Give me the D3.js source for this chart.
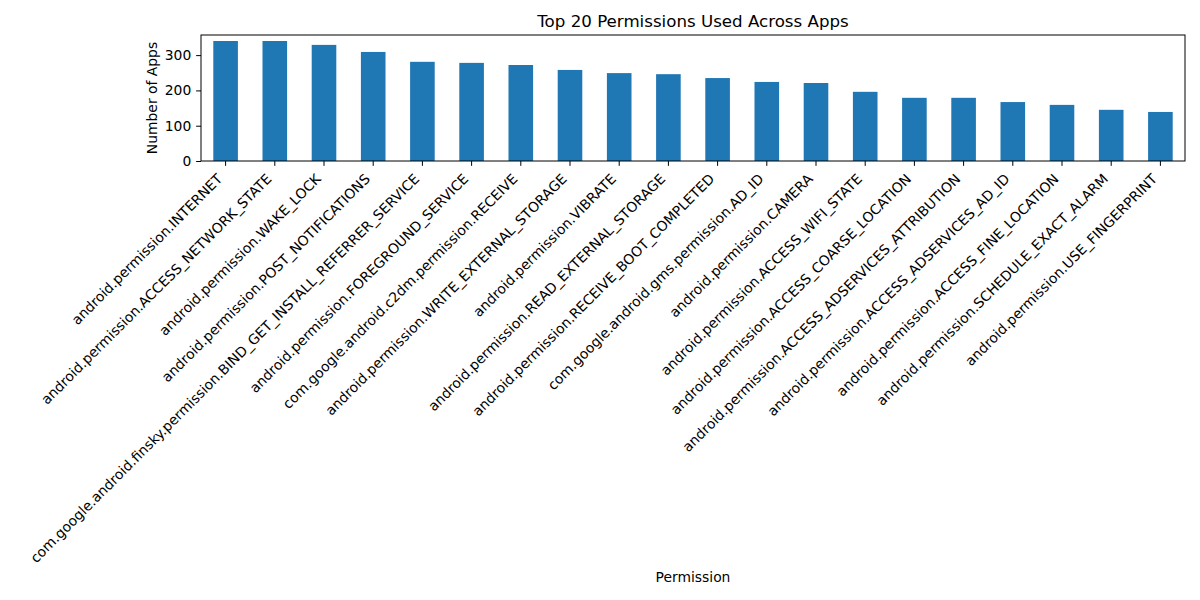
<!DOCTYPE html>
<html>
<head>
<meta charset="utf-8">
<script src="https://cdn.jsdelivr.net/npm/d3@7"></script>
<style>
  body { margin: 0; background: #fff; }
  svg text { font-family: "DejaVu Sans", sans-serif; fill: #000; }
</style>
</head>
<body>
<div id="chart"></div>
<script>
// data
var permissions = [
    "android.permission.INTERNET",
    "android.permission.ACCESS_NETWORK_STATE",
    "android.permission.WAKE_LOCK",
    "android.permission.POST_NOTIFICATIONS",
    "com.google.android.finsky.permission.BIND_GET_INSTALL_REFERRER_SERVICE",
    "android.permission.FOREGROUND_SERVICE",
    "com.google.android.c2dm.permission.RECEIVE",
    "android.permission.WRITE_EXTERNAL_STORAGE",
    "android.permission.VIBRATE",
    "android.permission.READ_EXTERNAL_STORAGE",
    "android.permission.RECEIVE_BOOT_COMPLETED",
    "com.google.android.gms.permission.AD_ID",
    "android.permission.CAMERA",
    "android.permission.ACCESS_WIFI_STATE",
    "android.permission.ACCESS_COARSE_LOCATION",
    "android.permission.ACCESS_ADSERVICES_ATTRIBUTION",
    "android.permission.ACCESS_ADSERVICES_AD_ID",
    "android.permission.ACCESS_FINE_LOCATION",
    "android.permission.SCHEDULE_EXACT_ALARM",
    "android.permission.USE_FINGERPRINT"
];
var appCounts = [340, 340, 329, 309, 281, 278, 272, 258, 249, 246,
                 235, 224, 221, 196, 179, 179, 167, 159, 145, 139];
var yTicks = [0, 100, 200, 300];

var svgWidth = 1200;
var svgHeight = 600;
var margin = { top: 35, right: 15, bottom: 439, left: 201 };
var chartWidth = svgWidth - margin.left - margin.right;
var chartHeight = svgHeight - margin.top - margin.bottom;
var fontSize = "13.89px";   // 10pt at 100 dpi

var svg = d3.select("#chart")
    .append("svg")
    .attr("width", svgWidth)
    .attr("height", svgHeight);

var chartGroup = svg.append("g")
    .attr("transform", `translate(${margin.left}, ${margin.top})`);

// band scale with 0.5 padding gives matplotlib's bar width of 0.5
var xScale = d3.scaleBand()
    .domain(permissions)
    .range([0, chartWidth])
    .paddingInner(0.5)
    .paddingOuter(0.25);

var yScale = d3.scaleLinear()
    .domain([0, d3.max(appCounts) * 1.05])
    .range([chartHeight, 0]);

// bars
chartGroup.selectAll("rect")
    .data(appCounts)
    .enter()
    .append("rect")
    .attr("x", (d, i) => xScale(permissions[i]))
    .attr("y", d => yScale(d))
    .attr("width", xScale.bandwidth())
    .attr("height", d => chartHeight - yScale(d))
    .attr("fill", "#1f77b4");

// y axis
var leftAxis = d3.axisLeft(yScale).tickValues(yTicks).tickSize(4.86).tickPadding(4.86);
var yAxisG = chartGroup.append("g").call(leftAxis);
yAxisG.select(".domain").remove();
yAxisG.selectAll("text").style("font-size", fontSize).style("font-family", "DejaVu Sans");

// x axis ticks
var bottomAxis = d3.axisBottom(xScale).tickSize(4.86).tickFormat("");
var xAxisG = chartGroup.append("g")
    .attr("transform", `translate(0, ${chartHeight})`)
    .call(bottomAxis);
xAxisG.select(".domain").remove();

// rotated tick labels, right aligned at the tick
chartGroup.selectAll(".xlabel")
    .data(permissions)
    .enter()
    .append("text")
    .attr("class", "xlabel")
    .attr("transform", d => `translate(${xScale(d) + xScale.bandwidth() / 2 - 2.3}, ${chartHeight + 18.8}) rotate(-45)`)
    .attr("text-anchor", "end")
    .style("font-size", fontSize)
    .text(d => d);

// frame
chartGroup.append("rect")
    .attr("width", chartWidth)
    .attr("height", chartHeight)
    .attr("fill", "none")
    .attr("stroke", "#000")
    .attr("stroke-width", 1);

// title and axis labels
svg.append("text")
    .attr("x", margin.left + chartWidth / 2)
    .attr("y", 27)
    .attr("text-anchor", "middle")
    .style("font-size", "16.67px")
    .text("Top 20 Permissions Used Across Apps");

svg.append("text")
    .attr("transform", `translate(157, ${margin.top + chartHeight / 2}) rotate(-90)`)
    .attr("text-anchor", "middle")
    .style("font-size", fontSize)
    .text("Number of Apps");

svg.append("text")
    .attr("x", margin.left + chartWidth / 2)
    .attr("y", 582)
    .attr("text-anchor", "middle")
    .style("font-size", fontSize)
    .text("Permission");
</script>
</body>
</html>
